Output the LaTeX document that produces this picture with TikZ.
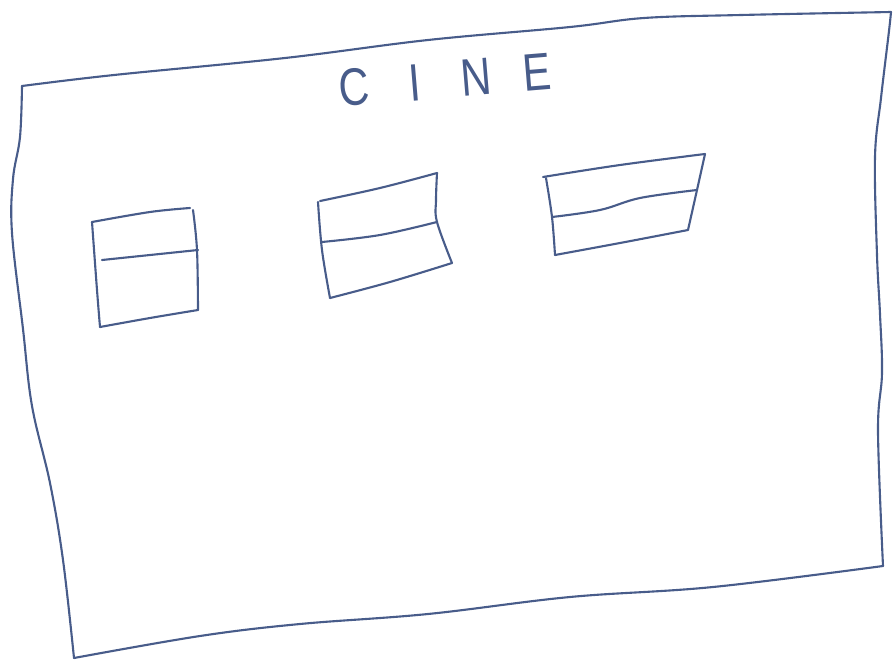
\documentclass[tikz,border=0pt]{standalone}
\usepackage{fontspec}
\setmainfont{Liberation Sans}
\usepackage{tikz}
\usetikzlibrary{calc}

\definecolor{inkblue}{RGB}{72,92,138}

\begin{document}
\begin{tikzpicture}[x=0.02cm, y=-0.02cm,
    pen/.style={draw=inkblue, line width=1.2pt, line join=round, line cap=round},
    wavy/.style={smooth, tension=0.6}]

    % frame of the whole picture
    \useasboundingbox (0,0) rectangle (894,663);

    % corners of the big screen
    \coordinate (TL) at (22,86);
    \coordinate (TR) at (891,12);
    \coordinate (BR) at (883,566);
    \coordinate (BL) at (74,658);

    % 1. outline of the screen (four wavy sides)
    \draw[pen] plot[wavy] coordinates {(TL) (114,75) (285,58) (428,40) (570,27) (644,18) (741,15) (TR)};
    \draw[pen] plot[wavy] coordinates {(TR) (889,31) (881,98) (875,157) (877,255) (880,314) (882,373) (878,431) (BR)};
    \draw[pen] plot[wavy] coordinates {(BR) (713,587) (570,597) (428,614) (300,624) (200,636) (BL)};
    \draw[pen] plot[wavy] coordinates {(BL) (63,560) (50,483) (32,406) (23,329) (12,233) (13,179) (20,137) (TL)};

    % 2. title
    \node[text=inkblue, font=\fontsize{30}{30}\selectfont, rotate=4.7, inner sep=0pt]
        (title) at (445,80) {\scalebox{0.8}[1]{C\hspace{1.0cm}I\hspace{1.0cm}N\hspace{0.79cm}E}};

    % 3. first window (left)
    \draw[pen] plot[wavy] coordinates {(92,222) (150,212) (190,208)};
    \draw[pen] plot[wavy] coordinates {(193,210) (197,250) (198,310)};
    \draw[pen] plot[wavy] coordinates {(198,310) (150,318) (100,327)};
    \draw[pen] plot[wavy] coordinates {(100,327) (97,290) (92,222)};
    \draw[pen] plot[wavy] coordinates {(102,260) (150,255) (198,250)};

    % 4. second window (middle)
    \draw[pen] plot[wavy] coordinates {(320,201) (380,188) (437,173)};
    \draw[pen] plot[wavy] coordinates {(437,173) (436,200) (437,222) (452,263)};
    \draw[pen] plot[wavy] coordinates {(452,263) (390,282) (330,298)};
    \draw[pen] plot[wavy] coordinates {(330,298) (322,250) (318,202)};
    \draw[pen] plot[wavy] coordinates {(322,242) (380,235) (437,222)};

    % 5. third window (right)
    \draw[pen] plot[wavy] coordinates {(543,177) (620,165) (705,154)};
    \draw[pen] plot[wavy] coordinates {(705,154) (697,190) (688,230)};
    \draw[pen] plot[wavy] coordinates {(688,230) (620,243) (555,255)};
    \draw[pen] plot[wavy] coordinates {(555,255) (552,217) (546,178)};
    \draw[pen] plot[wavy] coordinates {(552,217) (600,210) (640,198) (697,190)};

\end{tikzpicture}
\end{document}
